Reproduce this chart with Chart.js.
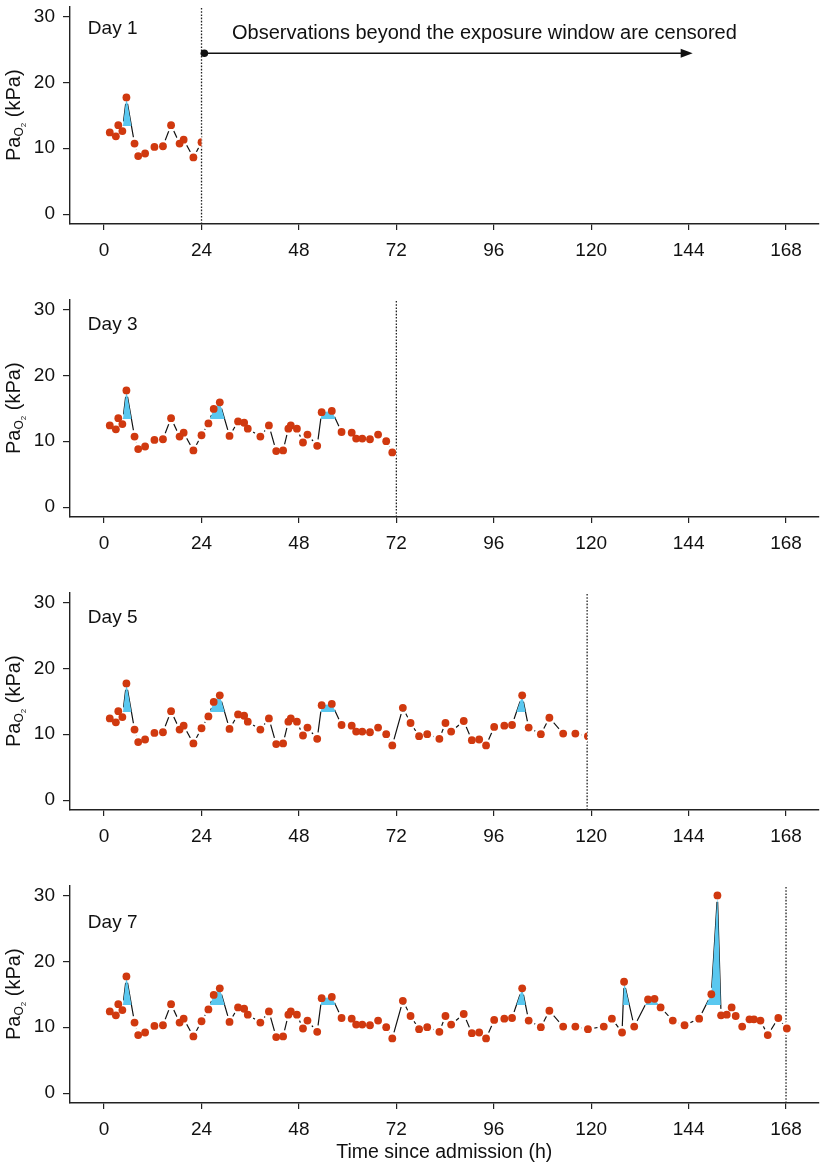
<!DOCTYPE html>
<html>
<head>
<meta charset="utf-8">
<script src="https://cdn.jsdelivr.net/npm/chart.js@4.4.1/dist/chart.umd.min.js"></script>
<style>
  body { margin: 0; background: #fff; overflow: hidden; }
  .panel { position: absolute; left: 0; width: 825px; }
</style>
</head>
<body>
<script>
// PaO2 measurements (hours since admission, kPa)
var times = [1.4, 2.9, 3.5, 4.5, 5.5, 7.5, 8.4, 10.1, 12.4, 14.5, 16.5, 18.6, 19.6, 22.0, 24.0,
  25.7, 27.0, 28.5, 30.9, 33.0, 34.5, 35.4, 38.5, 40.6, 42.4, 44.1, 45.4, 46.0, 47.5, 49.0,
  50.1, 52.5, 53.6, 56.1, 58.5, 61.0, 62.1, 63.6, 65.5, 67.5, 69.5, 71.0, 73.6, 75.5, 77.6,
  79.6, 82.6, 84.1, 85.5, 88.6, 90.6, 92.4, 94.1, 96.1, 98.6, 100.5, 103.0, 104.6, 107.6, 109.7,
  113.1, 116.1, 119.2, 123.1, 125.1, 127.6, 128.1, 130.6, 134.0, 135.6, 137.1, 140.1, 143.0, 146.6, 149.6,
  151.1, 152.0, 153.4, 154.6, 155.6, 157.2, 159.0, 160.1, 161.7, 163.5, 166.1, 168.2];
var pao2 = [12.4, 11.8, 13.5, 12.6, 17.7, 10.7, 8.8, 9.2, 10.2, 10.3, 13.5, 10.7, 11.3, 8.6, 10.9,
  12.7, 14.9, 15.9, 10.8, 13.0, 12.8, 11.9, 10.7, 12.4, 8.5, 8.6, 11.9, 12.4, 11.9, 9.8,
  11.0, 9.3, 14.4, 14.6, 11.4, 11.3, 10.4, 10.4, 10.3, 11.0, 10.0, 8.3, 14.0, 11.7, 9.7,
  10.0, 9.3, 11.7, 10.4, 12.0, 9.1, 9.2, 8.3, 11.1, 11.3, 11.4, 15.9, 11.0, 10.0, 12.5,
  10.1, 10.1, 9.7, 10.1, 11.3, 9.2, 16.9, 10.1, 14.2, 14.3, 13.0, 11.0, 10.3, 11.3, 15.0,
  30.0, 11.8, 11.9, 13.0, 11.7, 10.1, 11.2, 11.2, 11.0, 8.8, 11.4, 9.8];

var days = [1, 3, 5, 7];
var censorHours = [24, 72, 119, 168];
var threshold = 13.3;
var xTicks = [0, 24, 48, 72, 96, 120, 144, 168];
var yTicks = [0, 10, 20, 30];
var noteText = 'Observations beyond the exposure window are censored';

var FONT = '"Liberation Sans", Arial, Helvetica, sans-serif';
var RED = '#d0390f';
var BLUE = '#5ac8f0';
var INK = '#111';
var X_MIN = -8.4, X_MAX = 176, Y_MIN = -1.5, Y_MAX = 31.5;

var panelTop = [0, 293, 586, 879];
var panelHeight = [293, 293, 293, 289];
var dayLabelY = [27.4, 26.8, 26.8, 25.1];
var clipAtCensor = [true, true, true, false];

Chart.defaults.font.family = FONT;
Chart.defaults.color = INK;

// clip the series at the censoring time, draw labels, y title and the note
var panelDecor = {
  id: 'panelDecor',
  beforeDatasetDraw: function(chart, args, opts) {
    var ds = chart.data.datasets[args.index];
    if (!ds.censorClip || !opts.clip) return;
    var a = chart.chartArea;
    var cx = chart.scales.x.getPixelForValue(opts.censor);
    var ctx = chart.ctx;
    ctx.save();
    ctx.beginPath();
    ctx.rect(a.left - 10, a.top - 10, cx - a.left + 10, a.bottom - a.top + 20);
    ctx.clip();
  },
  afterDatasetDraw: function(chart, args, opts) {
    var ds = chart.data.datasets[args.index];
    var ctx = chart.ctx;
    if (ds.censorClip && opts.clip) ctx.restore();
    if (ds.fillEnd) ctx.restore();
    if (ds.fillPrep) {
      // the fill of the next dataset is drawn in its beforeDatasetDraw hook;
      // clip it at a whole pixel above the threshold so no hairline is left
      var a = chart.chartArea;
      var ty = Math.floor(chart.scales.y.getPixelForValue(threshold));
      var right = opts.clip ? chart.scales.x.getPixelForValue(opts.censor) : a.right;
      ctx.save();
      ctx.beginPath();
      ctx.rect(a.left, a.top - 10, right - a.left, ty - a.top + 10);
      ctx.clip();
    }
  },
  afterDraw: function(chart, args, opts) {
    var ctx = chart.ctx, x = chart.scales.x, y = chart.scales.y, a = chart.chartArea;
    ctx.save();
    ctx.fillStyle = INK;
    ctx.font = '19px ' + FONT;
    ctx.textAlign = 'left';
    ctx.textBaseline = 'alphabetic';
    ctx.fillText('Day ' + opts.day, x.getPixelForValue(-4), y.getPixelForValue(opts.labelY));

    // y axis title: Pa with subscript O2
    var parts = [['Pa', 20, 0], ['O', 12, 3], ['2', 8, 6], [' (kPa)', 20, 0]];
    var total = 0;
    parts.forEach(function(p) { ctx.font = p[1] + 'px ' + FONT; p.push(ctx.measureText(p[0]).width); total += p[3]; });
    ctx.translate(20, (a.top + a.bottom) / 2);
    ctx.rotate(-Math.PI / 2);
    var cur = -total / 2;
    parts.forEach(function(p) {
      ctx.font = p[1] + 'px ' + FONT;
      ctx.fillText(p[0], cur, p[2]);
      cur += p[3];
    });
    ctx.restore();

    if (opts.note) {
      ctx.save();
      var x0 = x.getPixelForValue(24.7), x1 = x.getPixelForValue(145), yy = y.getPixelForValue(24.4);
      ctx.strokeStyle = INK; ctx.fillStyle = INK; ctx.lineWidth = 1.4;
      ctx.beginPath(); ctx.moveTo(x0, yy); ctx.lineTo(x1 - 8, yy); ctx.stroke();
      ctx.beginPath(); ctx.arc(x0, yy, 3.8, 0, Math.PI * 2); ctx.fill();
      ctx.beginPath(); ctx.moveTo(x1, yy); ctx.lineTo(x1 - 12, yy - 4.5); ctx.lineTo(x1 - 12, yy + 4.5); ctx.closePath(); ctx.fill();
      ctx.font = '20px ' + FONT;
      ctx.textAlign = 'center';
      ctx.fillText(opts.note, x.getPixelForValue(93.7), y.getPixelForValue(26.5));
      ctx.restore();
    }
  }
};

function makePanel(i) {
  var wrap = document.createElement('div');
  wrap.className = 'panel';
  wrap.style.top = panelTop[i] + 'px';
  wrap.style.height = panelHeight[i] + 'px';
  var canvas = document.createElement('canvas');
  wrap.appendChild(canvas);
  document.body.appendChild(wrap);

  var censor = censorHours[i];
  var pts = times.map(function(t, k) { return {x: t, y: pao2[k]}; })
    .filter(function(p) { return p.x <= censor + 1; });
  var last = i === days.length - 1;

  var axisGrid = {display: true, drawOnChartArea: false, drawTicks: true, tickLength: 7, color: '#222', lineWidth: 1.2};
  var axisBorder = {display: true, color: '#222', width: 1.4};

  new Chart(canvas, {
    type: 'line',
    data: {
      datasets: [
        {data: [{x: censor, y: Y_MIN}, {x: censor, y: Y_MAX}], borderColor: '#222', borderWidth: 1.3,
          borderDash: [1.6, 1.6], pointRadius: 0, order: 5, clip: false},
        {data: pts, borderColor: INK, borderWidth: 1.2, pointRadius: 0, order: 4, censorClip: true},
        {data: pts, showLine: false, pointRadius: 6.5, pointBackgroundColor: '#fff', pointBorderWidth: 0,
          order: 3, censorClip: true, fillPrep: true},
        {data: pts, borderColor: 'rgba(0,0,0,0)', borderWidth: 0, pointRadius: 0, order: 2, fillEnd: true,
          fill: {target: {value: threshold}, above: BLUE, below: 'rgba(0,0,0,0)'}},
        {data: pts, showLine: false, pointRadius: 3.9, pointBackgroundColor: RED, pointBorderWidth: 0,
          order: 1, censorClip: true}
      ]
    },
    options: {
      responsive: true,
      maintainAspectRatio: false,
      animation: false,
      events: [],
      layout: {padding: {top: 3.3, right: 3, left: 0, bottom: 0}},
      plugins: {
        legend: {display: false},
        tooltip: {enabled: false},
        panelDecor: {day: days[i], labelY: dayLabelY[i], censor: censor, clip: clipAtCensor[i],
          note: i === 0 ? noteText : null}
      },
      scales: {
        x: {
          type: 'linear', min: X_MIN, max: X_MAX,
          afterBuildTicks: function(s) { s.ticks = xTicks.map(function(v) { return {value: v}; }); },
          afterFit: function(s) { s.height = panelHeight[i] - 224; s.paddingLeft = 0; s.paddingRight = 0; },
          grid: Object.assign({}, axisGrid, {tickLength: 6}),
          border: axisBorder,
          ticks: {font: {size: 19}, padding: 9, maxRotation: 0, autoSkip: false, color: INK},
          title: {display: last, text: 'Time since admission (h)', font: {size: 19.5}, color: INK,
            padding: {top: 0, bottom: 4}}
        },
        y: {
          min: Y_MIN, max: Y_MAX,
          afterBuildTicks: function(s) { s.ticks = yTicks.map(function(v) { return {value: v}; }); },
          afterFit: function(s) { s.width = 70; s.paddingTop = 0; s.paddingBottom = 0; },
          grid: axisGrid,
          border: axisBorder,
          ticks: {font: {size: 19}, padding: 8, color: INK}
        }
      }
    },
    plugins: [panelDecor]
  });
}

days.forEach(function(d, i) { makePanel(i); });
</script>
</body>
</html>
